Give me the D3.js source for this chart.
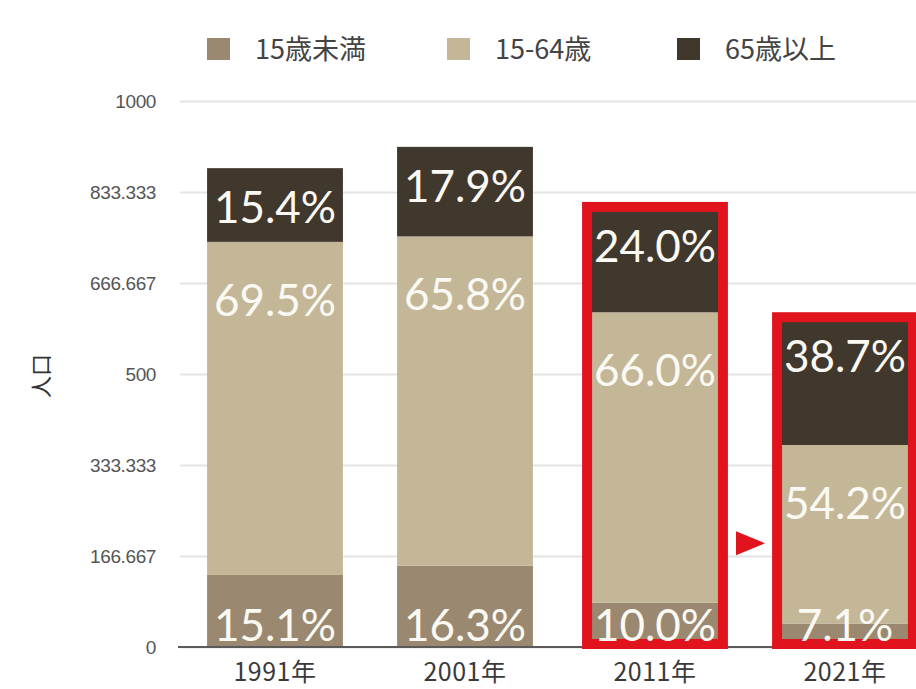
<!DOCTYPE html>
<html>
<head>
<meta charset="utf-8">
<script src="https://cdn.jsdelivr.net/npm/d3@7"></script>
<style>
  body { margin: 0; background: #fff; }
</style>
</head>
<body>
<div id="chart"></div>
<script>
// data (population, stacked by age group)
var years = ["1991年", "2001年", "2011年", "2021年"];
var under15 = [132, 149, 81, 43];
var working = [610, 603, 532, 327];
var elderly = [135, 164, 193, 234];
var under15Labels = ["15.1%", "16.3%", "10.0%", "7.1%"];
var workingLabels = ["69.5%", "65.8%", "66.0%", "54.2%"];
var elderlyLabels = ["15.4%", "17.9%", "24.0%", "38.7%"];
var seriesNames = ["15歳未満", "15-64歳", "65歳以上"];
var seriesKeys = ["under15", "working", "elderly"];
var seriesColors = ["#9a8970", "#c3b798", "#40372d"];
var yTicks = [0, 166.667, 333.333, 500, 666.667, 833.333, 1000];
var yTickLabels = ["0", "166.667", "333.333", "500", "666.667", "833.333", "1000"];
var highlighted = ["2011年", "2021年"];
var arrowAt = 190;

var svgWidth = 916;
var svgHeight = 689;
var margin = { top: 101, right: 0, bottom: 42, left: 180 };
var width = 760;
var height = svgHeight - margin.top - margin.bottom;

var svg = d3.select("#chart")
  .append("svg")
  .attr("width", svgWidth)
  .attr("height", svgHeight)
  .style("display", "block");

var chartGroup = svg.append("g")
  .attr("transform", `translate(${margin.left}, ${margin.top})`);

var table = years.map(function(y, i) {
  return { year: y, under15: under15[i], working: working[i], elderly: elderly[i] };
});

var stacked = d3.stack().keys(seriesKeys)(table);

var x = d3.scaleBand()
  .domain(years)
  .range([0, width])
  .paddingInner(0.285)
  .paddingOuter(0.1425);

var y = d3.scaleLinear()
  .domain([0, 1000])
  .range([height, 0]);

// gridlines + y tick labels
var leftAxis = d3.axisLeft(y)
  .tickValues(yTicks)
  .tickFormat(function(d, i) { return yTickLabels[i]; })
  .tickSize(-width)
  .tickPadding(24);

var yAxisG = chartGroup.append("g").call(leftAxis);
yAxisG.select(".domain").remove();
yAxisG.selectAll(".tick line").attr("stroke", "#e4e4e4").attr("stroke-width", 2);
yAxisG.selectAll(".tick text")
  .attr("fill", "#555")
  .style("font-family", "'Liberation Sans', Arial, sans-serif")
  .style("font-size", "19px")
  .style("letter-spacing", "-0.4px");

// bars
var layers = chartGroup.selectAll(".layer")
  .data(stacked)
  .enter()
  .append("g")
  .attr("class", "layer")
  .attr("fill", function(d, i) { return seriesColors[i]; });

layers.selectAll("rect")
  .data(function(d) { return d; })
  .enter()
  .append("rect")
  .attr("x", function(d) { return x(d.data.year); })
  .attr("y", function(d) { return y(d[1]); })
  .attr("width", x.bandwidth())
  .attr("height", function(d) { return y(d[0]) - y(d[1]); });

// baseline
chartGroup.append("line")
  .attr("x1", -2)
  .attr("x2", width)
  .attr("y1", y(0))
  .attr("y2", y(0))
  .attr("stroke", "#5a5a5a")
  .attr("stroke-width", 2);

// red highlight boxes
chartGroup.selectAll(".hl")
  .data(table.filter(function(d) { return highlighted.indexOf(d.year) >= 0; }))
  .enter()
  .append("rect")
  .attr("class", "hl")
  .attr("x", function(d) { return x(d.year); })
  .attr("y", function(d) { return y(d.under15 + d.working + d.elderly); })
  .attr("width", x.bandwidth())
  .attr("height", function(d) { return y(0) - y(d.under15 + d.working + d.elderly) - 3; })
  .attr("fill", "none")
  .attr("stroke", "#e1141d")
  .attr("stroke-width", 10);

// arrow between the two highlighted bars
var ax = (x(highlighted[0]) + x.bandwidth() + x(highlighted[1])) / 2;
var ay = y(arrowAt);
chartGroup.append("path")
  .attr("d", `M${ax - 14},${ay - 12} L${ax + 15},${ay} L${ax - 14},${ay + 12} Z`)
  .attr("fill", "#e1141d");

// percentage labels
var labelFont = "Lato, 'Noto Sans', sans-serif";
function addLabels(labels, yPos) {
  chartGroup.append("g")
    .selectAll("text")
    .data(table)
    .enter()
    .append("text")
    .attr("x", function(d) { return x(d.year) + x.bandwidth() / 2; })
    .attr("y", function(d, i) { return yPos(d, i); })
    .attr("text-anchor", "middle")
    .attr("fill", "#fbf9f3")
    .style("font-family", labelFont)
    .style("font-size", "44px")
    .text(function(d, i) { return labels[i]; });
}
addLabels(elderlyLabels, function(d) { return y(d.under15 + d.working + d.elderly) + 55; });
addLabels(workingLabels, function(d) { return y(d.under15 + d.working) + 74; });
addLabels(under15Labels, function(d) { return y(0) - 6; });

// x labels
chartGroup.append("g")
  .selectAll("text")
  .data(years)
  .enter()
  .append("text")
  .attr("x", function(d) { return x(d) + x.bandwidth() / 2; })
  .attr("y", height + 34)
  .attr("text-anchor", "middle")
  .attr("fill", "#3a3a3a")
  .style("font-family", "'Noto Sans CJK JP', sans-serif")
  .style("font-size", "25px")
  .style("letter-spacing", "0.5px")
  .text(function(d) { return d; });

// y axis title
svg.append("text")
  .attr("transform", `translate(41, ${margin.top + height / 2 + 2}) rotate(-90)`)
  .attr("text-anchor", "middle")
  .attr("dy", "0.35em")
  .attr("fill", "#333")
  .style("font-family", "'Noto Sans CJK JP', sans-serif")
  .style("font-size", "22px")
  .text("人口");

// legend
var legendX = [207, 447, 677];
var legend = svg.append("g").attr("transform", "translate(0, 49)");
var items = legend.selectAll("g")
  .data(seriesNames)
  .enter()
  .append("g")
  .attr("transform", function(d, i) { return `translate(${legendX[i]}, 0)`; });
items.append("rect")
  .attr("x", 0)
  .attr("y", -11)
  .attr("width", 23)
  .attr("height", 22)
  .attr("fill", function(d, i) { return seriesColors[i]; });
items.append("text")
  .attr("x", 48)
  .attr("dy", "0.36em")
  .attr("fill", "#444")
  .style("font-family", "'Noto Sans CJK JP', sans-serif")
  .style("font-size", "27px")
  .text(function(d) { return d; });
</script>
</body>
</html>
